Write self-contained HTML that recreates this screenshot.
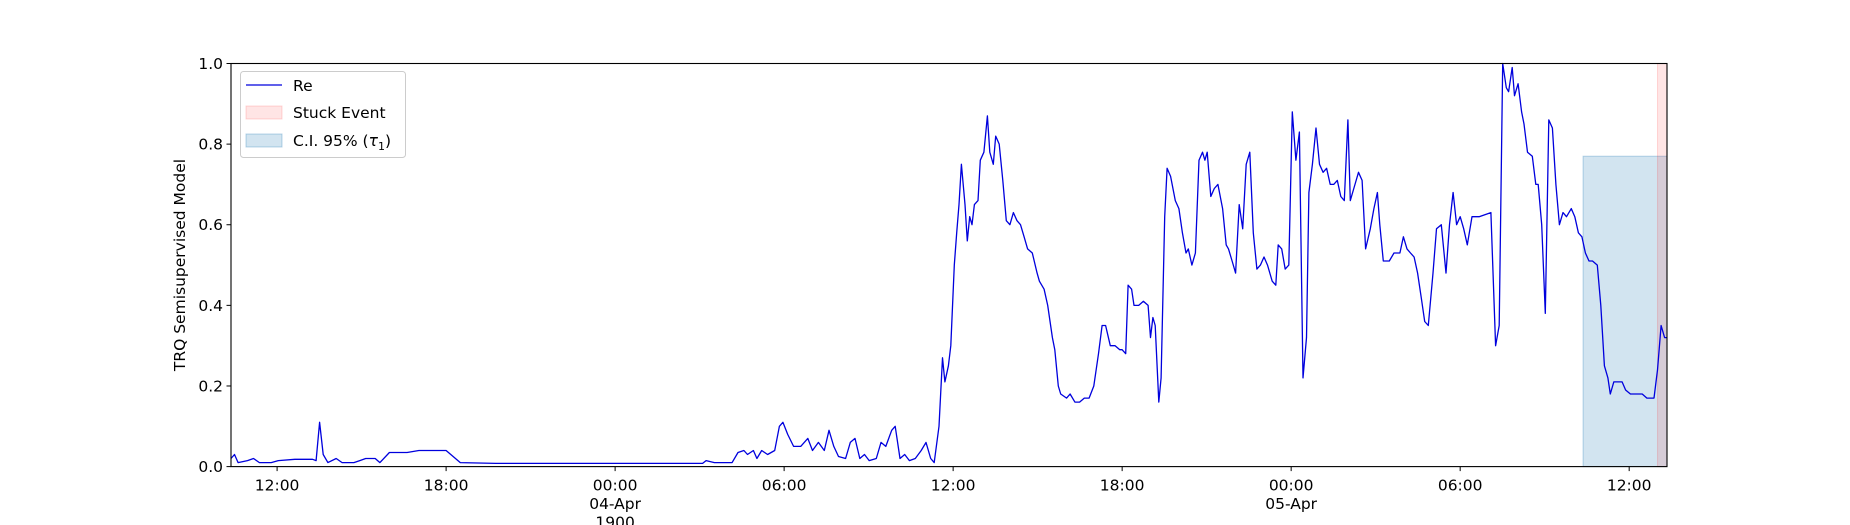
<!DOCTYPE html>
<html><head><meta charset="utf-8"><style>
body{margin:0;background:#fff}
svg{display:block;font-family:"DejaVu Sans","Liberation Sans",sans-serif}
</style></head><body>
<svg id="chart" width="1850" height="525" viewBox="0 0 1850 525" xmlns="http://www.w3.org/2000/svg">
<g id="bands"></g><g id="series"></g><g id="axes"></g><g id="legend"></g>
</svg>
<script>
// time in sample units (1 unit ≈ 2.517 min), start ≈ 03-Apr 10:21
const times=[0,3,6,14,19,24,34,40,54,69,72,75,78,82,89,94,104,109,114,122,126,134,149,159,182,194,224,399,402,409,424,429,434,437,442,445,449,454,460,464,467,471,476,482,488,492,497,502,506,510,514,520,524,528,532,536,540,546,550,554,559,562,566,570,574,579,584,588,592,595,599,602,604,607,609,612,614,616,618,621,623,625,627,629,632,634,637,640,642,645,647,650,653,656,659,662,665,668,671,674,678,682,684,688,691,695,697,700,702,707,710,714,718,722,726,730,734,737,740,744,748,752,754,757,759,762,764,768,772,776,778,780,782,785,787,790,792,795,799,802,805,808,810,813,816,819,822,824,826,829,832,835,839,842,844,847,850,853,856,859,862,865,868,871,874,877,881,884,886,889,892,895,898,901,904,907,910,912,915,918,921,924,927,930,933,936,939,942,945,947,950,954,957,960,964,967,970,972,975,980,984,989,992,995,998,1001,1004,1007,1010,1013,1017,1020,1024,1028,1031,1034,1037,1040,1043,1046,1050,1056,1066,1070,1073,1076,1079,1081,1084,1086,1089,1092,1094,1097,1101,1104,1106,1109,1112,1115,1118,1121,1124,1127,1130,1134,1137,1140,1143,1146,1149,1152,1156,1159,1162,1165,1167,1170,1174,1177,1180,1184,1194,1198,1204,1207,1210,1213,1215];
const values=[0.02,0.03,0.01,0.015,0.02,0.01,0.01,0.015,0.018,0.018,0.015,0.11,0.03,0.01,0.02,0.01,0.01,0.015,0.02,0.02,0.01,0.035,0.035,0.04,0.04,0.01,0.008,0.008,0.015,0.01,0.01,0.035,0.04,0.03,0.04,0.02,0.04,0.03,0.04,0.1,0.11,0.08,0.05,0.05,0.07,0.04,0.06,0.04,0.09,0.05,0.025,0.02,0.06,0.07,0.02,0.03,0.015,0.02,0.06,0.05,0.09,0.1,0.02,0.03,0.015,0.02,0.04,0.06,0.02,0.01,0.1,0.27,0.21,0.25,0.3,0.5,0.58,0.65,0.75,0.65,0.56,0.62,0.6,0.65,0.66,0.76,0.78,0.87,0.78,0.75,0.82,0.8,0.71,0.61,0.6,0.63,0.61,0.6,0.57,0.54,0.53,0.48,0.46,0.44,0.4,0.32,0.29,0.2,0.18,0.17,0.18,0.16,0.16,0.17,0.17,0.2,0.28,0.35,0.35,0.3,0.3,0.29,0.29,0.28,0.45,0.44,0.4,0.4,0.41,0.4,0.32,0.37,0.35,0.16,0.22,0.62,0.74,0.72,0.66,0.64,0.58,0.53,0.54,0.5,0.53,0.76,0.78,0.76,0.78,0.67,0.69,0.7,0.64,0.55,0.54,0.51,0.48,0.65,0.59,0.75,0.78,0.58,0.49,0.5,0.52,0.5,0.46,0.45,0.55,0.54,0.49,0.5,0.88,0.76,0.83,0.22,0.32,0.68,0.75,0.84,0.75,0.73,0.74,0.7,0.7,0.71,0.67,0.66,0.86,0.66,0.69,0.73,0.71,0.54,0.59,0.64,0.68,0.6,0.51,0.51,0.53,0.53,0.57,0.54,0.53,0.52,0.48,0.42,0.36,0.35,0.48,0.59,0.6,0.48,0.6,0.68,0.6,0.62,0.59,0.55,0.62,0.62,0.63,0.3,0.35,1.0,0.94,0.93,0.99,0.92,0.95,0.88,0.85,0.78,0.77,0.7,0.7,0.6,0.38,0.86,0.84,0.7,0.6,0.63,0.62,0.64,0.62,0.58,0.57,0.53,0.51,0.51,0.5,0.4,0.25,0.22,0.18,0.21,0.21,0.21,0.19,0.18,0.18,0.17,0.17,0.24,0.35,0.32,0.32];
const ciBand=[1144,1215,0.77];
const stuckBand=[1207,1215];
const tickHours=[-12,-6,0,6,12,18,24,30,36];
const tickLabels=["12:00","18:00","00:00","06:00","12:00","18:00","00:00","06:00","12:00"];
const tickSub=["","","04-Apr\n1900","","","","05-Apr","",""];
const yTicks=[0,0.2,0.4,0.6,0.8,1.0];

const L=231,R=1667,T=63.5,B=466.6,TMAX=1215;
const X=t=>L+t*(R-L)/TMAX;
const Y=v=>B-v*(B-T);
const hourToT=h=>325+h*143/6;
const NS="http://www.w3.org/2000/svg";
function mk(tag,parent,attrs){const e=document.createElementNS(NS,tag);for(const k in attrs)e.setAttribute(k,attrs[k]);parent.appendChild(e);return e;}
const bands=document.getElementById('bands'),series=document.getElementById('series'),axes=document.getElementById('axes'),legend=document.getElementById('legend');

let r=mk('rect',bands,{x:X(ciBand[0]),y:Y(ciBand[2]),width:X(ciBand[1])-X(ciBand[0]),height:Y(0)-Y(ciBand[2]),fill:'#1f77b4','fill-opacity':0.2,stroke:'#1f77b4','stroke-opacity':0.3});


r=mk('rect',bands,{x:X(stuckBand[0]),y:T,width:X(stuckBand[1])-X(stuckBand[0]),height:B-T,fill:'#ff0000','fill-opacity':0.1,stroke:'#ff0000','stroke-opacity':0.15});



let d='';times.forEach((t,i)=>{d+=(i?'L':'M')+X(t).toFixed(1)+','+Y(values[i]).toFixed(1);});
const p=mk('path',series,{d:d,fill:'none',stroke:'#0000dd','stroke-width':1.3,'stroke-linejoin':'round'});



const frame=mk('rect',axes,{x:L,y:T,width:R-L,height:B-T,fill:'none',stroke:'#000','stroke-width':1.1});



yTicks.forEach(v=>{
  mk('line',axes,{x1:L-4.5,x2:L,y1:Y(v),y2:Y(v),stroke:'#000'});
  const tx=mk('text',axes,{x:L-8,y:Y(v)+5.5,'text-anchor':'end','font-size':15.5});
  tx.textContent=v.toFixed(1);
  
  
});
tickHours.forEach((h,i)=>{
  const x=X(hourToT(h));
  mk('line',axes,{x1:x,x2:x,y1:B,y2:B+4.5,stroke:'#000'});
  const lines=[tickLabels[i]].concat(tickSub[i]?tickSub[i].split('\n'):[]);
  lines.forEach((s,j)=>{
    const tx=mk('text',axes,{x:x,y:B+24+j*18.5,'text-anchor':'middle','font-size':15.5});
    tx.textContent=s;
    
    
  });
});
const yl=mk('text',axes,{x:0,y:0,'text-anchor':'middle','font-size':15.5,transform:'translate(185,'+((T+B)/2)+') rotate(-90)'});
yl.textContent='TRQ Semisupervised Model';



const lb=mk('rect',legend,{x:240.5,y:71.5,width:165,height:86,rx:3,fill:'#fff','fill-opacity':0.8,stroke:'#ccc'});


mk('line',legend,{x1:246,x2:282,y1:85,y2:85,stroke:'#0000dd','stroke-width':1.3});
mk('rect',legend,{x:246,y:106,width:36,height:13,fill:'#ff0000','fill-opacity':0.1,stroke:'#ff0000','stroke-opacity':0.15});
mk('rect',legend,{x:246,y:134,width:36,height:13,fill:'#1f77b4','fill-opacity':0.2,stroke:'#1f77b4','stroke-opacity':0.3});
[['Re',91],['Stuck Event',118],['C.I. 95% (',146]].forEach((e,i)=>{
  const tx=mk('text',legend,{x:293,y:e[1],'font-size':15.5});
  tx.textContent=e[0];
  if(i===2){const a=mk('tspan',tx,{'font-style':'italic'});a.textContent='τ';const b=mk('tspan',tx,{'font-size':11,dy:4});b.textContent='1';const c=mk('tspan',tx,{dy:-4});c.textContent=')';}
  
  
});
</script>
</body></html>
